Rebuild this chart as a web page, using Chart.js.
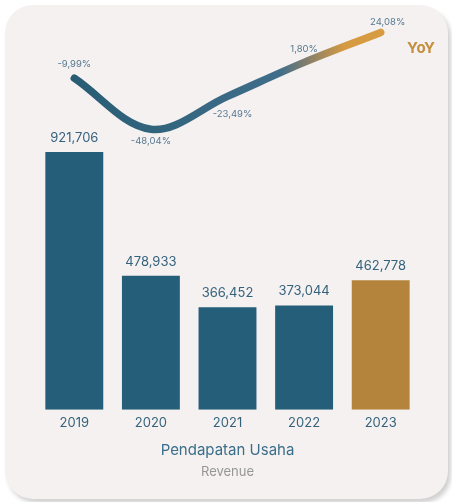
<!DOCTYPE html>
<html>
<head>
<meta charset="utf-8">
<script src="https://cdn.jsdelivr.net/npm/chart.js@4.4.1/dist/chart.umd.min.js"></script>
<style>
  html, body { margin: 0; padding: 0; background: #ffffff; }
  body { width: 452px; height: 502px; position: relative; overflow: hidden; font-family: Inter, sans-serif; }
  .card {
    position: absolute; left: 5px; top: 5px; width: 443px; height: 494px;
    background: #f5f1f0; border-radius: 28px;
    box-shadow: 3px 4px 4px rgba(0, 0, 0, 0.18);
  }
  #wrap { position: absolute; left: 0; top: 0; width: 452px; height: 502px; }
</style>
</head>
<body>
<div class="card"></div>
<div id="wrap"><canvas id="revChart"></canvas></div>
<script>
const years = ["2019", "2020", "2021", "2022", "2023"];
const revenue = [921706, 478933, 366452, 373044, 462778];
const yoy = [-9.99, -48.04, -23.49, 1.80, 24.08];

const TEAL = "rgb(37, 94, 120)";
const GOLD = "rgb(180, 132, 60)";
const LABEL = "rgb(52, 98, 125)";
const SMALL = "rgb(84, 120, 145)";

// label offset (px) for each yoy value, above (-) or below (+) the line
const yoyOffset = [-14, 12, 18, -13, -10];

const fmtNum = (v) => v.toLocaleString("en-US");
const fmtPct = (v) => v.toFixed(2).replace(".", ",") + "%";

const labelPlugin = {
  id: "valueLabels",
  afterDatasetsDraw(chart) {
    const ctx = chart.ctx;
    ctx.save();
    ctx.textAlign = "center";
    ctx.textBaseline = "middle";
    // bar values
    ctx.font = "13px Inter";
    ctx.fillStyle = LABEL;
    chart.getDatasetMeta(1).data.forEach((bar, i) => {
      ctx.fillText(fmtNum(revenue[i]), bar.x, bar.y - 14);
    });
    // yoy values
    ctx.font = "9.5px Inter";
    ctx.fillStyle = SMALL;
    chart.getDatasetMeta(0).data.forEach((pt, i) => {
      ctx.fillText(fmtPct(yoy[i]), pt.x + (i === 4 ? 7 : i === 2 ? 5 : 0), pt.y + yoyOffset[i]);
    });
    // series tag
    ctx.font = "bold 15px Inter";
    ctx.fillStyle = "rgb(196, 143, 62)";
    ctx.fillText("YoY", 421, 48);
    ctx.restore();
  },
};

function lineGradient(context) {
  const area = context.chart.chartArea;
  if (!area) return TEAL;
  const g = context.chart.ctx.createLinearGradient(area.left, 0, area.right, 0);
  const w = area.right - area.left;
  const at = (x) => Math.min(1, Math.max(0, (x - area.left) / w));
  g.addColorStop(at(70), "rgb(40, 92, 116)");
  g.addColorStop(at(280), "rgb(64, 110, 138)");
  g.addColorStop(at(305), "rgb(128, 125, 110)");
  g.addColorStop(at(345), "rgb(214, 154, 66)");
  g.addColorStop(1, "rgb(216, 156, 64)");
  return g;
}

new Chart(document.getElementById("revChart"), {
  data: {
    labels: years,
    datasets: [
      {
        type: "line",
        label: "YoY",
        data: yoy,
        yAxisID: "y1",
        borderColor: lineGradient,
        borderWidth: 7.5,
        borderCapStyle: "round",
        borderJoinStyle: "round",
        tension: 0.35,
        pointRadius: 0,
        pointHoverRadius: 0,
        clip: false,
        order: 0,
      },
      {
        type: "bar",
        label: "Pendapatan Usaha",
        data: revenue,
        yAxisID: "y",
        backgroundColor: [TEAL, TEAL, TEAL, TEAL, GOLD],
        categoryPercentage: 0.756,
        barPercentage: 1,
        order: 1,
      },
    ],
  },
  options: {
    responsive: true,
    maintainAspectRatio: false,
    animation: false,
    layout: {
      padding: { top: 10, left: 36, right: 33, bottom: 22 },
    },
    scales: {
      x: {
        grid: { display: false, drawTicks: false },
        border: { display: false },
        ticks: { color: LABEL, font: { family: "Inter", size: 13 }, padding: 5 },
        title: {
          display: true,
          text: "Pendapatan Usaha",
          color: "rgb(58, 110, 138)",
          font: { family: "Inter", size: 15 },
          padding: { top: 6, bottom: 0 },
        },
      },
      y: { display: false, min: 0, max: 1429000 },
      y1: { display: false, min: -256.8, max: 40.8 },
    },
    plugins: {
      legend: { display: false },
      tooltip: { enabled: false },
      title: {
        display: true,
        position: "bottom",
        text: "Revenue",
        color: "rgb(150, 150, 150)",
        font: { family: "Inter", size: 13, weight: "normal" },
        padding: { top: 5, bottom: 0 },
      },
    },
  },
  plugins: [labelPlugin],
});
</script>
</body>
</html>
